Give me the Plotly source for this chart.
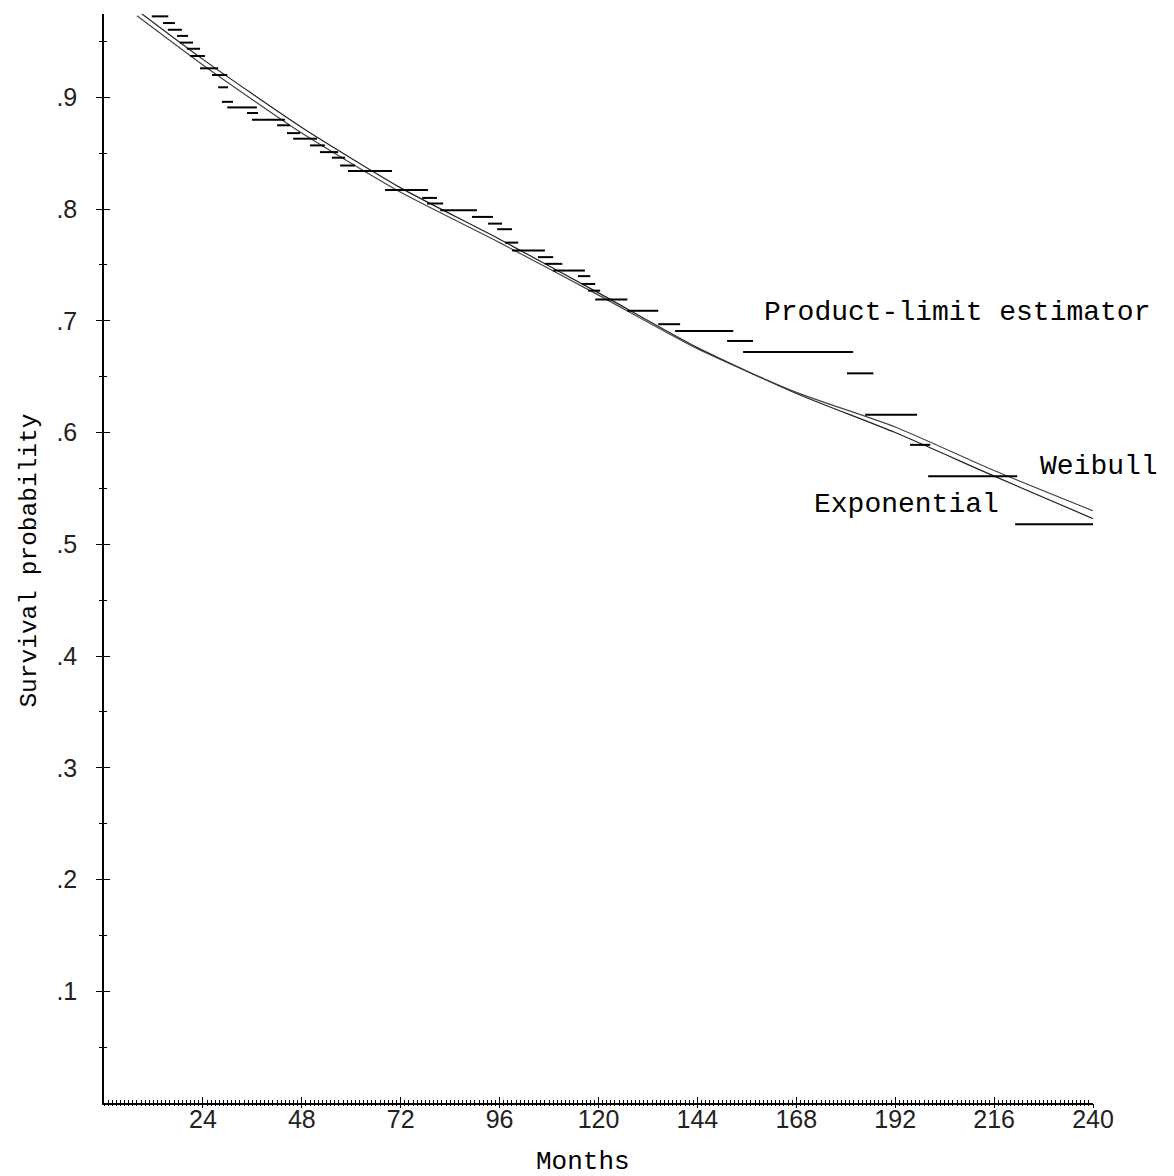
import plotly.graph_objects as go

# ---- data ----
fit_months = [8, 24, 48, 72, 96, 120, 144, 168, 192, 216, 240]
exponential_surv = [0.978, 0.934, 0.873, 0.819, 0.773, 0.725, 0.676, 0.635, 0.600, 0.561, 0.523]
weibull_surv = [0.973, 0.929, 0.868, 0.815, 0.770, 0.723, 0.675, 0.636, 0.605, 0.566, 0.530]

km_start = [11.6, 14.3, 15.5, 17.7, 18.4, 20.1, 20.9, 23.3, 26.2, 27.7, 28.6, 29.9, 34.7, 35.9,
            42.0, 44.4, 45.9, 50.0, 52.4, 55.3, 57.3, 59.2, 68.2, 77.2, 78.4, 81.6, 89.3, 93.2,
            95.4, 97.3, 99.0, 105.3, 107.0, 109.0, 115.0, 116.0, 117.5, 119.2, 127.0, 134.5,
            138.6, 151.2, 155.1, 180.3, 184.7, 195.6, 200.0, 221.1]
km_end = [15.6, 17.2, 18.9, 20.4, 21.6, 23.3, 24.5, 27.7, 29.9, 30.1, 31.3, 37.1, 37.4, 43.9,
          45.1, 47.6, 51.7, 53.6, 56.8, 58.5, 60.9, 69.9, 78.6, 80.8, 82.3, 90.5, 94.4, 96.6,
          99.0, 100.5, 107.0, 109.0, 111.2, 116.7, 118.0, 119.2, 120.4, 127.0, 134.5, 139.8,
          152.7, 157.5, 181.8, 186.7, 197.3, 200.5, 221.6, 241.3]
km_surv = [0.9725, 0.9665, 0.9605, 0.955, 0.949, 0.9435, 0.937, 0.926, 0.920, 0.909, 0.896,
           0.891, 0.886, 0.880, 0.875, 0.868, 0.863, 0.857, 0.851, 0.846, 0.839, 0.834, 0.817,
           0.810, 0.805, 0.799, 0.793, 0.787, 0.782, 0.770, 0.763, 0.757, 0.751, 0.745, 0.740,
           0.733, 0.727, 0.719, 0.709, 0.697, 0.691, 0.682, 0.672, 0.653, 0.616, 0.589, 0.561,
           0.518]

x_tickvals = [24, 48, 72, 96, 120, 144, 168, 192, 216, 240]
x_ticktext = ["24", "48", "72", "96", "120", "144", "168", "192", "216", "240"]
y_tickvals = [0.1, 0.2, 0.3, 0.4, 0.5, 0.6, 0.7, 0.8, 0.9]
y_ticktext = [".1", ".2", ".3", ".4", ".5", ".6", ".7", ".8", ".9"]

# ---- build figure ----
step_x, step_y = [], []
for a, b, s in zip(km_start, km_end, km_surv):
    step_x += [a, b, None]
    step_y += [s, s, None]

fig = go.Figure()
fig.add_trace(go.Scatter(x=fit_months, y=exponential_surv, mode="lines",
                         line=dict(color="#222", width=1.2, shape="spline", smoothing=0.6),
                         name="Exponential", showlegend=False))
fig.add_trace(go.Scatter(x=fit_months, y=weibull_surv, mode="lines",
                         line=dict(color="#444", width=1.2, shape="spline", smoothing=0.6),
                         name="Weibull", showlegend=False))
fig.add_trace(go.Scatter(x=step_x, y=step_y, mode="lines",
                         line=dict(color="black", width=2),
                         name="Product-limit estimator", showlegend=False,
                         connectgaps=False))
# invisible trace on the overlay axes (for crossing tick marks)
fig.add_trace(go.Scatter(x=[0], y=[0], xaxis="x2", yaxis="y2", mode="markers",
                         marker=dict(opacity=0), showlegend=False, hoverinfo="skip"))

tick_font = dict(family="Liberation Sans", size=25, color="#222")
XR = [0, 240]
YR = [0, 0.9746]

# page body has an 8px margin: figure is 1166x1168, plot area at page (104..1093, 14..1103)
fig.update_layout(
    width=1166, height=1168,
    margin=dict(l=96, r=81, t=6, b=73),
    paper_bgcolor="white", plot_bgcolor="white",
    showlegend=False,
    xaxis=dict(range=XR, showgrid=False, zeroline=False, showline=True,
               linecolor="black", linewidth=1.5,
               tickmode="array", tickvals=x_tickvals, ticktext=x_ticktext,
               ticks="inside", ticklen=6, tickwidth=1.2, tickcolor="black",
               ticklabelstandoff=-7, tickfont=tick_font,
               minor=dict(tickmode="linear", tick0=0, dtick=1, ticks="inside",
                          ticklen=3, tickwidth=1, tickcolor="black")),
    yaxis=dict(range=YR, showgrid=False, zeroline=False, showline=True,
               linecolor="black", linewidth=1.5,
               tickmode="array", tickvals=y_tickvals, ticktext=y_ticktext,
               ticks="outside", ticklen=6, tickwidth=1.2, tickcolor="black",
               ticklabelstandoff=14, tickfont=tick_font,
               minor=dict(tickmode="linear", tick0=0.05, dtick=0.1, ticks="outside",
                          ticklen=3, tickwidth=1, tickcolor="black")),
    xaxis2=dict(range=XR, overlaying="x", anchor="y", side="bottom", showgrid=False,
                zeroline=False, showline=False, showticklabels=False,
                tickmode="array", tickvals=x_tickvals,
                ticks="outside", ticklen=4, tickwidth=1.2, tickcolor="black",
                minor=dict(tickmode="linear", tick0=0, dtick=1, ticks="outside",
                           ticklen=2, tickwidth=1, tickcolor="black")),
    yaxis2=dict(range=YR, overlaying="y", anchor="x", side="left", showgrid=False,
                zeroline=False, showline=False, showticklabels=False,
                tickmode="array", tickvals=y_tickvals,
                ticks="inside", ticklen=6, tickwidth=1.2, tickcolor="black",
                minor=dict(tickmode="linear", tick0=0.05, dtick=0.1, ticks="inside",
                           ticklen=3, tickwidth=1, tickcolor="black")),
)

label_font = dict(family="Liberation Mono", size=28, color="black")
fig.add_annotation(x=159.7, y=0.7073, xref="x", yref="y", text="Product-limit estimator",
                   showarrow=False, xanchor="left", yanchor="middle", font=label_font)
fig.add_annotation(x=226.7, y=0.5695, xref="x", yref="y", text="Weibull",
                   showarrow=False, xanchor="left", yanchor="middle", font=label_font)
fig.add_annotation(x=171.8, y=0.5355, xref="x", yref="y", text="Exponential",
                   showarrow=False, xanchor="left", yanchor="middle", font=label_font)

title_font = dict(family="Liberation Mono", size=24.5, color="black")
fig.add_annotation(x=(30 - 104) / 989, y=(1103.4 - 561) / 1089, xref="paper", yref="paper",
                   text="Survival probability", textangle=-90, showarrow=False,
                   xanchor="center", yanchor="middle", font=title_font)
fig.add_annotation(x=(583 - 104) / 989, y=(1103.4 - 1162) / 1089, xref="paper", yref="paper",
                   text="Months", showarrow=False, xanchor="center", yanchor="middle",
                   font=dict(family="Liberation Mono", size=26, color="black"))

fig.write_html("out.html")
